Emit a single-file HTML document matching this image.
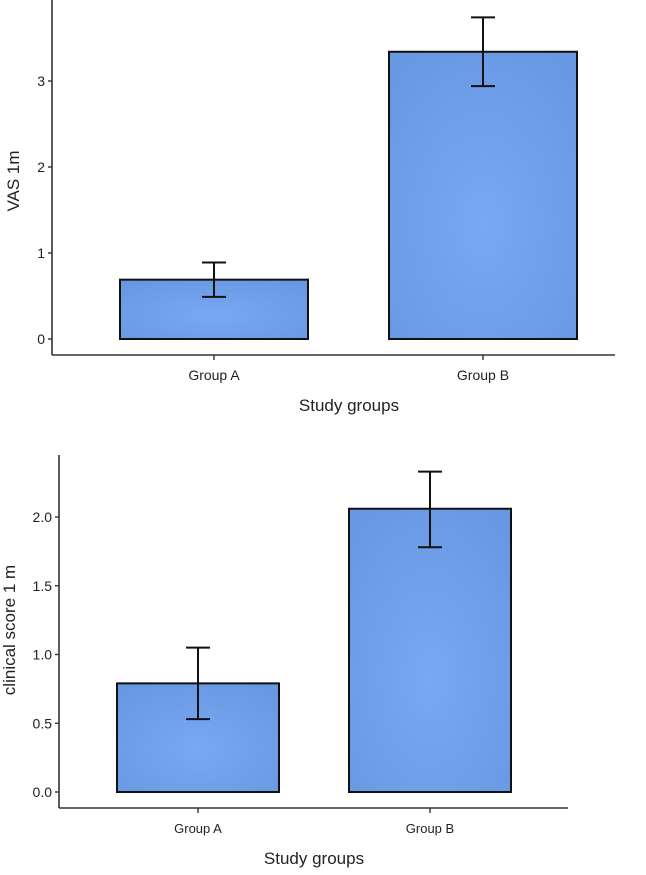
<!DOCTYPE html>
<html><head><meta charset="utf-8"><style>
body{margin:0;background:#fff;width:646px;height:870px;overflow:hidden}
text{font-family:"Liberation Sans",sans-serif;fill:#222}
</style></head><body>
<svg id="chart" width="646" height="870" xmlns="http://www.w3.org/2000/svg">
<defs><radialGradient id="g" cx="50%" cy="60%" r="70%"><stop offset="0" stop-color="#78a8f2"/><stop offset="1" stop-color="#6898e2"/></radialGradient></defs>
</svg>
<script>
const categories=["Group A","Group B"];
const vasMeans=[0.69,3.34];
const vasLow=[0.49,2.94];
const vasHigh=[0.89,3.74];
const vasTicks=[0,1,2,3];
const vasTickLabels=["0","1","2","3"];
const clinMeans=[0.79,2.06];
const clinLow=[0.53,1.78];
const clinHigh=[1.05,2.33];
const clinTicks=[0,0.5,1,1.5,2];
const clinTickLabels=["0.0","0.5","1.0","1.5","2.0"];

const svg=document.getElementById('chart');
const NS='http://www.w3.org/2000/svg';
function el(t,a,p){const e=document.createElementNS(NS,t);for(const k in a)e.setAttribute(k,a[k]);(p||svg).appendChild(e);return e;}

function panel(o){
  const g=el('g',{});
  
  
  const y=v=>o.y0-v*o.ppu;
  const x=i=>o.centers[i];
  const ya=el('line',{x1:o.ax,y1:o.axTop,x2:o.ax,y2:o.xAxisY,stroke:'#333','stroke-width':1.6},g);
  
  
  const xa=el('line',{x1:o.ax,y1:o.xAxisY,x2:o.axEnd,y2:o.xAxisY,stroke:'#333','stroke-width':1.6},g);
  
  
  o.ticks.forEach((t,i)=>{
    el('line',{x1:o.ax-4,y1:y(t),x2:o.ax,y2:y(t),stroke:'#333','stroke-width':1.4},g);
    const tx=el('text',{x:o.ax-7,y:y(t)+5,'text-anchor':'end','font-size':14},g);
    tx.textContent=o.labels[i];
    
    
  });
  categories.forEach((c,i)=>{
    const r=el('rect',{x:x(i)-o.bw/2,y:y(o.means[i]),width:o.bw,height:y(0)-y(o.means[i]),fill:'url(#g)',stroke:'#111','stroke-width':2},g);
    
    
    const eg=el('g',{stroke:'#111','stroke-width':2},g);
    
    
    el('line',{x1:x(i),y1:y(o.low[i]),x2:x(i),y2:y(o.high[i])},eg);
    el('line',{x1:x(i)-12,y1:y(o.low[i]),x2:x(i)+12,y2:y(o.low[i])},eg);
    el('line',{x1:x(i)-12,y1:y(o.high[i]),x2:x(i)+12,y2:y(o.high[i])},eg);
    el('line',{x1:x(i),y1:o.xAxisY,x2:x(i),y2:o.xAxisY+5,stroke:'#333','stroke-width':1.4},g);
    const t=el('text',{x:x(i),y:o.xAxisY+25,'text-anchor':'middle','font-size':o.catFs},g);
    t.textContent=c;
    
    
  });
  const xt=el('text',{x:o.xtx,y:o.xty,'text-anchor':'middle','font-size':17},g);
  xt.textContent='Study groups';
  
  
  const yt=el('text',{x:0,y:0,'text-anchor':'middle','font-size':17,transform:`translate(${o.ytx},${o.yty}) rotate(-90)`},g);
  yt.textContent=o.ytitle;
  
  
}
panel({name:'vas-panel',ax:52,axTop:0,axEnd:615,xAxisY:355,y0:339,ppu:86,centers:[214,483],bw:188,
  means:vasMeans,low:vasLow,high:vasHigh,ticks:vasTicks,labels:vasTickLabels,catFs:14,
  xtx:349,xty:411,ytx:19,yty:181,ytitle:'VAS 1m'});
panel({name:'clinical-panel',ax:59,axTop:455,axEnd:568,xAxisY:808,y0:792,ppu:137.5,centers:[198,430],bw:162,
  means:clinMeans,low:clinLow,high:clinHigh,ticks:clinTicks,labels:clinTickLabels,catFs:13,
  xtx:314,xty:864,ytx:15,yty:630,ytitle:'clinical score 1 m'});
</script>
</body></html>
